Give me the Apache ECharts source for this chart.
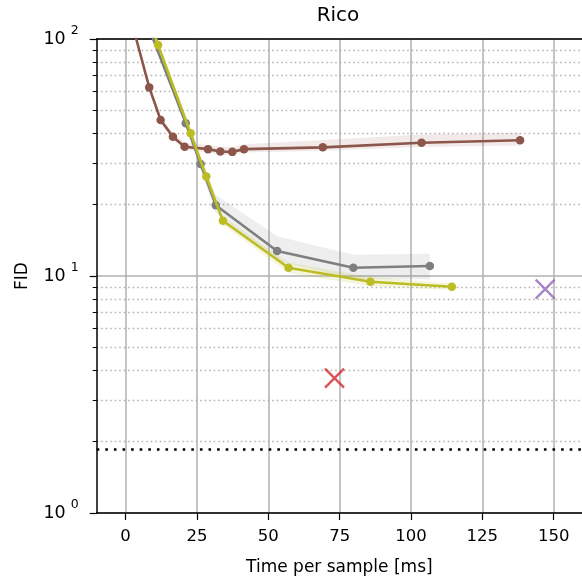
<!DOCTYPE html>
<html><head><meta charset="utf-8">
<script src="https://cdn.jsdelivr.net/npm/echarts@6/dist/echarts.min.js"></script>
<style>html,body{margin:0;padding:0;background:#fff}#c{width:582px;height:588px}</style>
</head><body><div id="c"></div>
<script>
const titleText = 'Rico';
const xTicks = [0, 25, 50, 75, 100, 125, 150];
const yMajor = [1, 10, 100];
const refLine = [1.858];

const brownX  = [2, 8.3, 12.3, 16.6, 20.7, 28.9, 33.2, 37.4, 41.5, 69.1, 103.7, 138.2];
const brownY  = [120, 62.5, 45.5, 38.7, 35.1, 34.3, 33.5, 33.4, 34.3, 34.9, 36.5, 37.4];
const brownHi = [125, 64.5, 47, 40, 36.5, 35.7, 35, 35, 36, 37.5, 39.5, 40.2];
const brownLo = [115, 60.5, 44, 37.5, 34, 33.2, 32.5, 32.3, 33.2, 33.8, 35, 35.5];

const grayX  = [6, 21.1, 26.3, 31.6, 53.1, 79.8, 106.6];
const grayY  = [130, 44.1, 29.7, 19.9, 12.75, 10.84, 11.02];
const grayHi = [135, 46, 31.5, 22, 14.7, 12.3, 12.4];
const grayLo = [125, 42.5, 28, 18.5, 11.6, 9.7, 9.7];

const oliveX  = [6, 11.4, 22.8, 28.3, 34.1, 57.1, 85.8, 114.3];
const oliveY  = [150, 94.3, 40.0, 26.3, 17.1, 10.84, 9.46, 9.01];
const oliveHi = [155, 97, 41.5, 27.3, 17.8, 11.4, 9.9, 9.3];
const oliveLo = [145, 91.5, 38.5, 25.3, 16.4, 10.3, 9.05, 8.75];

const redX = [[73.2, 3.71]];
const purpleX = [[147, 8.81]];

const FONT = 'DejaVu Sans';
const chart = echarts.init(document.getElementById('c'), null, {renderer: 'canvas'});

function pairs(xs, ys) { return xs.map((x, i) => [x, ys[i]]); }
function band(xs, lo, hi, color) {
  return {
    type: 'custom', coordinateSystem: 'cartesian2d', clip: true, silent: true, z: 1,
    data: [[xs[0], lo[0]]], encode: {x: 0, y: 1},
    renderItem: function (params, api) {
      const pts = [];
      for (let i = 0; i < xs.length; i++) pts.push(api.coord([xs[i], hi[i]]));
      for (let i = xs.length - 1; i >= 0; i--) pts.push(api.coord([xs[i], lo[i]]));
      return {type: 'polygon', shape: {points: pts}, style: {fill: color}};
    }
  };
}
function line(xs, ys, color, z) {
  return {
    type: 'line', data: pairs(xs, ys), symbol: 'circle', symbolSize: 8.5, z: z,
    lineStyle: {color: color, width: 2.6}, itemStyle: {color: color}, clip: true,
    animation: false
  };
}
const xSym = 'path://M0,0L10,10M10,0L0,10';

chart.setOption({
  animation: false,
  title: {text: titleText, left: 333, top: 1, textAlign: 'center',
    textStyle: {fontFamily: FONT, fontSize: 20, fontWeight: 'normal', color: '#000'}},
  grid: {left: 96.7, top: 39, right: 0, bottom: 75},
  xAxis: [{
    type: 'value', min: -10.1, max: 159.9,
    name: 'Time per sample [ms]', nameLocation: 'middle', nameGap: 46,
    nameTextStyle: {fontFamily: FONT, fontSize: 17, color: '#000'},
    axisLine: {show: true, onZero: false, lineStyle: {color: '#000', width: 1.5}},
    axisTick: {show: true, length: 7, customValues: xTicks, lineStyle: {color: '#000', width: 1.2}},
    axisLabel: {customValues: xTicks, margin: 15, fontFamily: FONT, fontSize: 16.5, color: '#000'},
    splitLine: {show: true, lineStyle: {color: '#b0b0b0', width: 1.5}}
  }, {
    type: 'value', position: 'top', min: -10.1, max: 159.9,
    axisLine: {show: true, onZero: false, lineStyle: {color: '#000', width: 1.5}},
    axisTick: {show: false}, axisLabel: {show: false}, splitLine: {show: false}
  }],
  yAxis: {
    type: 'log', logBase: 10, min: 1, max: 100,
    name: 'FID', nameLocation: 'middle', nameGap: 66, nameRotate: 90,
    nameTextStyle: {fontFamily: FONT, fontSize: 17, color: '#000'},
    axisLine: {show: true, onZero: false, lineStyle: {color: '#000', width: 1.5}},
    axisTick: {show: true, length: 7, lineStyle: {color: '#000', width: 1.2}},
    minorTick: {show: true, splitNumber: 9, length: 4, lineStyle: {color: '#000', width: 1}},
    axisLabel: {
      margin: 18, showMinLabel: true, showMaxLabel: true,
      formatter: v => '{b|10}{g| }{s|' + Math.round(Math.log10(v)) + '}',
      rich: {
        b: {fontFamily: FONT, fontSize: 17.5, color: '#000', lineHeight: 30},
        g: {fontFamily: FONT, fontSize: 4, width: 5, lineHeight: 30},
        s: {fontFamily: FONT, fontSize: 12.5, color: '#000', verticalAlign: 'top', lineHeight: 12}
      }
    },
    splitLine: {show: true, lineStyle: {color: '#b0b0b0', width: 1.5}},
    minorSplitLine: {show: true, lineStyle: {color: '#b0b0b0', width: 1.3, type: [1.5, 3]}}
  },
  series: [
    band(brownX.slice(1), brownLo.slice(1), brownHi.slice(1), 'rgba(140,86,75,0.12)'),
    band(grayX.slice(1), grayLo.slice(1), grayHi.slice(1), 'rgba(127,127,127,0.13)'),
    band(oliveX.slice(1), oliveLo.slice(1), oliveHi.slice(1), 'rgba(188,189,34,0.15)'),
    {
      type: 'line', data: [], z: 2,
      markLine: {silent: true, symbol: 'none', label: {show: false},
        lineStyle: {color: '#000', width: 2.6, type: [2.6, 6]},
        data: refLine.map(v => ({yAxis: v}))}
    },
    line(brownX, brownY, '#8c564b', 3),
    line(grayX, grayY, '#7f7f7f', 4),
    line(oliveX, oliveY, '#bcbd22', 5),
    {type: 'scatter', data: redX, symbol: xSym, symbolSize: 19, z: 6,
      itemStyle: {color: 'none', borderColor: '#d62728', borderWidth: 2.4}},
    {type: 'scatter', data: purpleX, symbol: xSym, symbolSize: 19, z: 6,
      itemStyle: {color: 'none', borderColor: '#9467bd', borderWidth: 2.4}}
  ]
});
</script></body></html>
